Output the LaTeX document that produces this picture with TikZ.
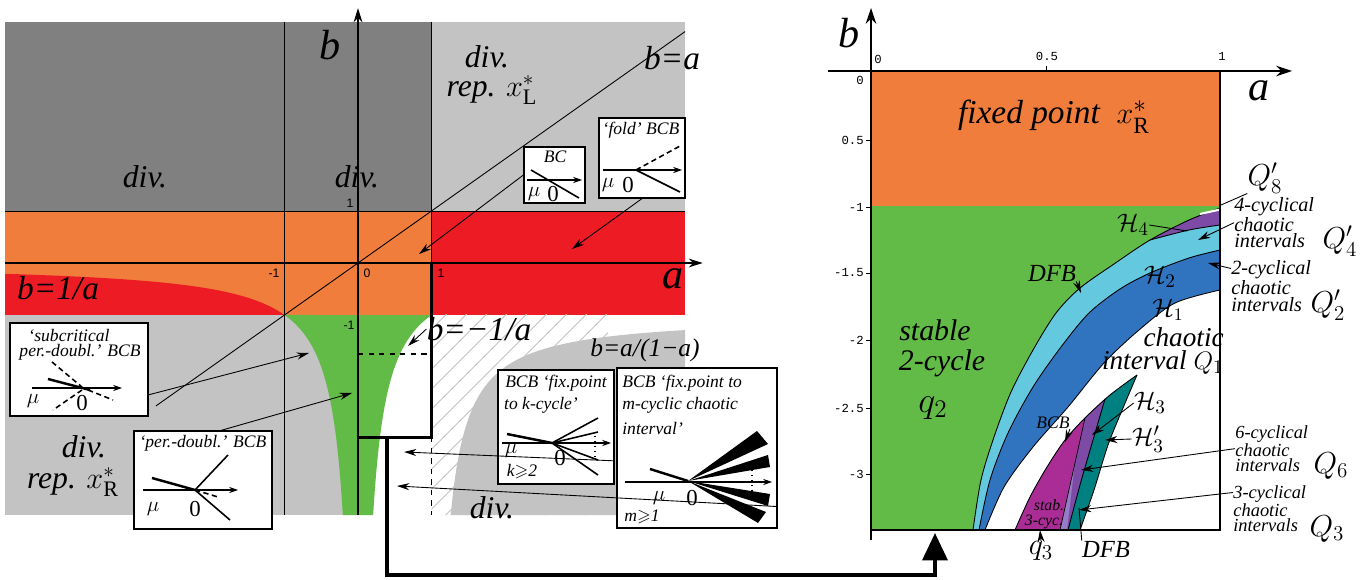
\documentclass[tikz,border=0pt]{standalone}
\usepackage{amssymb}
\usepackage{fontspec}
\setmainfont{Liberation Serif}
\setsansfont{Liberation Sans}
\setmonofont{Liberation Mono}
\usetikzlibrary{arrows.meta}

\definecolor{divdark}{RGB}{128,128,128}
\definecolor{divlight}{RGB}{195,195,195}
\definecolor{fixorange}{RGB}{240,125,60}
\definecolor{fixred}{RGB}{237,28,36}
\definecolor{cycgreen}{RGB}{98,187,70}
\definecolor{chaolight}{RGB}{100,200,222}
\definecolor{chaodark}{RGB}{48,115,190}
\definecolor{chaopurple}{RGB}{125,75,165}
\definecolor{stabmagenta}{RGB}{170,45,150}
\definecolor{stablav}{RGB}{150,125,200}
\definecolor{chaoteal}{RGB}{0,128,128}

\newcommand{\fsz}[1]{\fontsize{#1}{#1}\selectfont}
\newcommand{\fszb}[2]{\fontsize{#1}{#2}\selectfont}

\tikzset{
  region/.style={font=\itshape\fsz{18}, inner sep=0pt},
  eqlbl/.style={font=\itshape\fsz{19}, inner sep=0pt},
  axlbl/.style={font=\itshape\fsz{24}, inner sep=0pt},
  ticklbl/.style={font=\sffamily\fsz{7}, inner sep=0pt},
  rticklbl/.style={font=\ttfamily\fsz{7}, inner sep=0pt},
  inset/.style={draw, fill=white, line width=0.7pt, inner sep=0pt},
  insettxt/.style={font=\itshape\fsz{10}, inner sep=0pt},
  insetsym/.style={font=\fsz{13}, inner sep=0pt},
  note/.style={inner sep=0pt, align=left, anchor=north west},
  bignote/.style={font=\itshape\fsz{17}, inner sep=0pt},
  qlbl/.style={font=\fsz{18}, inner sep=0pt},
  hlbl/.style={font=\fsz{15}, inner sep=0pt},
  inaxis/.style={-{Stealth[length=5pt,width=3.5pt]}, line width=0.6pt},
  stablebr/.style={line width=1.4pt},
  unstbr/.style={dashed, line width=0.9pt, dash pattern=on 3pt off 2pt},
  pointer/.style={-{Stealth[length=7pt,width=4pt]}, line width=0.5pt},
}

\begin{document}
\begin{tikzpicture}[x=0.02cm,y=-0.02cm]
\useasboundingbox (0,0) rectangle (1370,580);

% left panel, drawn in (a,b)
\begin{scope}[shift={(358,263)},xscale=73.5,yscale=-52]
  \fill[divdark] (-4.8,1) rectangle (1,4.63);
  \fill[divlight] (1,1) rectangle (4.45,4.63);
  \fill[fixorange] (-4.8,-1) rectangle (1,1);
  \fill[fixred] (1,-1) rectangle (4.45,1);
  \fill[fixred] (-4.8,-1) -- plot[domain=-4.8:-1,samples=40] (\x,{1/\x}) -- cycle;
  \fill[divlight] (-4.8,-4.85) rectangle (0,-1);
  \fill[white] (0,-4.85) rectangle (4.45,-1);
  \fill[cycgreen] plot[domain=1:4.85,samples=60] ({-1/\x},{-\x})
    -- plot[domain=-4.85:-1,samples=60] ({-1/\x},\x) -- cycle;
  % hatching
  \begin{scope}
    \clip (1,-4.85) rectangle (3.4,-1);
    \foreach \k in {0,...,24}
      \draw[divlight,line width=0.5pt] (1+0.272*\k-2.8,-4.85) -- ++(2.8,3.96);
  \end{scope}
  \fill[divlight] plot[domain=1.26:4.45,samples=80] (\x,{\x/(1-\x)})
    -- (4.45,-4.85) -- (1.26,-4.85) -- cycle;
  % lines
  \draw[line width=0.5pt] (-1,-4.85) -- (-1,4.63);
  \draw[line width=0.5pt] (1,4.63) -- (1,-3.35);
  \draw[line width=0.5pt,dashed] (1,-3.35) -- (1,-4.85);
  \draw[line width=0.5pt] (-4.8,1) -- (4.45,1);
  \draw[line width=0.5pt] (-2.75,-2.75) -- (4.45,4.45);
  \draw[line width=0.6pt,dashed] (0,-1.75) -- (1,-1.75);
  \draw[line width=0.6pt,-{Stealth[length=8pt,width=5pt]}] (-4.8,0) -- (4.69,0);
  \draw[line width=0.6pt,-{Stealth[length=8pt,width=5pt]}] (0,-4.85) -- (0,4.9);
  \draw[line width=1.6pt] (0,0) rectangle (1,-3.35);
\end{scope}

% left panel labels
\node[axlbl] (bL) at (330,45) {b};
\node[axlbl] (aL) at (673,279) {a};
\node[region] (divA) at (145,177) {div.};
\node[region] (divB) at (357,177) {div.};
\node[region] (divC) at (487,57) {div.};
\node[region] (repL) at (492,90) {rep. $x^*_{\mathrm{L}}$};
\node[region] (divD) at (84,447) {div.};
\node[region] (repR) at (73,482) {rep. $x^*_{\mathrm{R}}$};
\node[region] (divE) at (492,508) {div.};
\node[eqlbl] (eqA) at (672,58) {b=a};
\node[eqlbl] (eqB) at (58,288) {b=1/a};
\node[eqlbl] (eqC) at (479,329) {b=−1/a};
\node[font=\itshape\fsz{14.5}, inner sep=0pt] (eqD) at (645,350) {b=a/(1−a)};
\node[ticklbl] (tb1) at (350,203) {1};
\node[ticklbl] (tam1) at (274,273) {-1};
\node[ticklbl] (ta0) at (367,273) {0};
\node[ticklbl] (ta1) at (441,273) {1};
\node[ticklbl] (tbm1) at (349,325) {-1};

% inset: subcritical period doubling
\node[inset, minimum width=2.76cm, minimum height=1.86cm] (subbox) at (79,369.5) {};
\node[insettxt] (subtxtA) at (69,336) {`subcritical};
\node[insettxt] (subtxtB) at (80,352) {per.-doubl.' BCB};
\draw[inaxis] (32,388) -- (122,388);
\draw[stablebr] (48,379) -- (90,390);
\draw[unstbr] (52,362) -- (82,387);
\draw[unstbr] (88,390) -- (113,400);
\draw[unstbr] (82,390) -- (53,410);
\node[insetsym] (submu) at (33,401) {$\mu$};
\node[insetsym] (subzero) at (82,403) {0};

% inset: period doubling
\node[inset, minimum width=2.76cm, minimum height=1.96cm] (pdbox) at (203,480) {};
\node[insettxt] (pdtxt) at (203,443) {`per.-doubl.' BCB};
\draw[inaxis] (143,490) -- (238,490);
\draw[stablebr] (152,478) -- (195,490);
\draw[line width=0.9pt] (195,490) -- (228,455);
\draw[line width=0.9pt] (195,490) -- (230,520);
\draw[unstbr] (195,490) -- (218,497);
\node[insetsym] (pdmu) at (153,509) {$\mu$};
\node[insetsym] (pdzero) at (195,509) {0};

% inset: border collision
\node[inset, minimum width=1.22cm, minimum height=1.12cm] (bcbox) at (554.5,175) {};
\node[insettxt] (bctxt) at (555,157) {BC};
\draw[inaxis] (527,180) -- (582,180);
\draw[line width=0.9pt] (531,170) -- (579,198);
\node[insetsym] (bcmu) at (534,194) {$\mu$};
\node[insetsym] (bczero) at (553,194) {0};

% inset: fold
\node[inset, minimum width=1.72cm, minimum height=1.6cm] (foldbox) at (642,158) {};
\node[insettxt] (foldtxt) at (641,130) {`fold' BCB};
\draw[inaxis] (603,170) -- (682,170);
\draw[unstbr] (636,170) -- (680,146);
\draw[line width=0.9pt] (636,170) -- (680,192);
\node[insetsym] (foldmu) at (608,185) {$\mu$};
\node[insetsym] (foldzero) at (628,185) {0};

% inset: fixed point to k-cycle
\node[inset, minimum width=2.32cm, minimum height=2.28cm] (kbox) at (556,427) {};
\node[insettxt] (ktxtA) at (556,383) {BCB `fix.point};
\node[insettxt] (ktxtB) at (541,405) {to k-cycle'};
\draw[inaxis] (502,443) -- (611,443);
\draw[stablebr] (507,434) -- (552,443);
\foreach \ey in {418,432,460,475}
  \draw[line width=0.9pt] (552,443) -- (598,\ey);
\draw[dotted, line width=0.8pt] (595,436) -- (595,457);
\node[insetsym] (kmu) at (511,451) {$\mu$};
\node[insetsym] (kzero) at (560,458) {0};
\node[insettxt] (kcond) at (522,472) {k$\geqslant$2};

% inset: fixed point to m-cyclic chaotic interval
\node[inset, minimum width=3.2cm, minimum height=3.2cm] (mbox) at (697,448) {};
\node[insettxt, anchor=west] (mtxtA) at (622,383) {BCB `fix.point to};
\node[insettxt, anchor=west] (mtxtB) at (622,405) {m-cyclic chaotic};
\node[insettxt, anchor=west] (mtxtC) at (622,428) {interval'};
\draw[inaxis] (625,482) -- (772,482);
\draw[stablebr] (650,469) -- (688,481);
\fill (688,481) -- (757,431) -- (768,444) -- cycle;
\fill (688,481) -- (768,455) -- (770,467) -- cycle;
\fill (688,481) -- (770,494) -- (768,506) -- cycle;
\fill (688,481) -- (766,512) -- (758,523) -- cycle;
\draw[dotted, line width=0.8pt] (752,470) -- (752,492);
\node[insetsym] (mmu) at (659,498) {$\mu$};
\node[insetsym] (mzero) at (692,498) {0};
\node[insettxt] (mcond) at (642,517) {m$\geqslant$1};

% pointers in the left panel
\coordinate (tBC) at (419,254);
\coordinate (tFold) at (572,249);
\coordinate (tSub) at (309,353);
\coordinate (tPd) at (352,393);
\coordinate (tNeg) at (408,346);
\coordinate (tK) at (404,452);
\coordinate (tM) at (397,486);
\draw[pointer] (bcbox.west) -- (tBC);
\draw[pointer] (foldbox.south) -- (tFold);
\draw[pointer] (subbox.-20) -- (tSub);
\draw[pointer] (pdbox.70) -- (tPd);
\draw[pointer] (eqC.west) -- (tNeg);
\draw[pointer] (kbox.-30) -- (tK);
\draw[pointer] (mbox.-36) -- (tM);

% right panel
\fill[fixorange] (871,71) rectangle (1220,206);
\fill[cycgreen] (871,206) rectangle (1220,530);
\fill[chaolight] plot[smooth] coordinates {(973,530) (981,480) (994,437) (1011,392) (1033,350) (1056,313) (1080,288) (1114,264) (1150,240) (1189,220) (1220,208)} -- (1220,530) -- cycle;
\begin{scope}
  \clip plot[smooth] coordinates {(1120,245) (1150,240) (1189,230) (1220,225)} -- (1220,150) -- (1120,150) -- cycle;
  \fill[chaopurple] plot[smooth] coordinates {(973,530) (981,480) (994,437) (1011,392) (1033,350) (1056,313) (1080,288) (1114,264) (1150,240) (1189,220) (1220,208)} -- (1220,530) -- cycle;
\end{scope}
\fill[chaodark] plot[smooth] coordinates {(979,530) (990,480) (1008,433) (1033,387) (1061,347) (1089,313) (1120,289) (1150,273) (1189,258) (1220,250)} -- (1220,530) -- cycle;
\fill[white] plot[smooth] coordinates {(985,530) (1004,487) (1033,447) (1068,407) (1104,363) (1139,330) (1175,303) (1220,290)} -- (1220,530) -- cycle;
\draw[line width=0.5pt] plot[smooth] coordinates {(973,530) (981,480) (994,437) (1011,392) (1033,350) (1056,313) (1080,288) (1114,264) (1150,240) (1189,220) (1220,208)};
\draw[line width=0.5pt] plot[smooth] coordinates {(979,530) (990,480) (1008,433) (1033,387) (1061,347) (1089,313) (1120,289) (1150,273) (1189,258) (1220,250)};
\draw[line width=0.5pt] plot[smooth] coordinates {(985,530) (1004,487) (1033,447) (1068,407) (1104,363) (1139,330) (1175,303) (1220,290)};
\draw[line width=0.5pt] plot[smooth] coordinates {(1150,240) (1189,230) (1220,225)};
\draw[white, line width=1.2pt] (1200,214) -- (1220,209.5);

% tongue of the 3-cycle
\fill[chaoteal] plot[smooth] coordinates {(1015,530) (1030,497) (1047,467) (1065,440) (1085,418) (1110,395) (1137,375)}
  -- plot[smooth] coordinates {(1137,375) (1123,408) (1108,445) (1094,490) (1080,530)} -- cycle;
\fill[chaopurple] plot[smooth] coordinates {(1015,530) (1030,497) (1047,467) (1065,440) (1085,418) (1105,399)}
  -- plot[smooth] coordinates {(1105,399) (1093,440) (1080,485) (1068,530)} -- cycle;
\fill[stabmagenta] plot[smooth] coordinates {(1015,530) (1030,497) (1047,467) (1065,440) (1085,418)} -- (1060,530) -- cycle;
\fill[stablav] (1060,530) -- (1075,462) -- (1067,530) -- cycle;
\draw[line width=0.5pt] plot[smooth] coordinates {(1015,530) (1030,497) (1047,467) (1065,440) (1085,418) (1110,395) (1137,375)};
\draw[line width=0.5pt] plot[smooth] coordinates {(1137,375) (1123,408) (1108,445) (1094,490) (1080,530)};
\draw[line width=0.5pt] plot[smooth] coordinates {(1105,399) (1093,440) (1080,485) (1068,530)};
\draw[line width=0.4pt] (1085,418) -- (1060,530);

% axes and frame
\draw[line width=0.6pt] (871,530) -- (1220,530) -- (1220,71);
\draw[line width=0.6pt,-{Stealth[length=9pt,width=6pt]}] (828,71) -- (1292,71);
\draw[line width=0.6pt,-{Stealth[length=9pt,width=6pt]}] (871,540) -- (871,8);
\foreach \ty in {140,207,273,340,408,474}
  \draw[line width=0.5pt] (866,\ty) -- (871,\ty);
\draw[line width=0.5pt] (1046,66) -- (1046,71);
\node[axlbl] (bR) at (849,33) {b};
\node[axlbl] (aR) at (1259,91) {a};
\node[rticklbl] (rt0) at (878,59) {0};
\node[rticklbl] (rt05) at (1047,56) {0.5};
\node[rticklbl] (rt1) at (1222,56) {1};
\node[rticklbl, anchor=east] (rb0) at (864,80) {0};
\node[rticklbl, anchor=east] (rb05) at (864,140) {0.5};
\node[rticklbl, anchor=east] (rb1) at (864,207) {-1};
\node[rticklbl, anchor=east] (rb15) at (864,273) {-1.5};
\node[rticklbl, anchor=east] (rb2) at (864,340) {-2};
\node[rticklbl, anchor=east] (rb25) at (864,408) {-2.5};
\node[rticklbl, anchor=east] (rb3) at (864,474) {-3};

% right panel labels
\node[font=\itshape\fsz{19}, inner sep=0pt] (fixpt) at (1054,117) {fixed point\ \ $x^*_{\mathrm{R}}$};
\node[qlbl] (q8lbl) at (1265,178) {$Q'_8$};
\node[hlbl] (h4lbl) at (1133,225) {$\mathcal{H}_4$};
\node[note, font=\itshape\fszb{11.5}{9.3}] (c4) at (1234,197) {4-cyclical\\chaotic\\intervals};
\node[qlbl] (q4lbl) at (1340,241) {$Q'_4$};
\node[font=\itshape\fsz{14}, inner sep=0pt] (dfbU) at (1052,273) {DFB};
\node[hlbl] (h2lbl) at (1160,277) {$\mathcal{H}_2$};
\node[note, font=\itshape\fszb{11.5}{9.6}] (c2) at (1231,260) {2-cyclical\\chaotic\\intervals};
\node[qlbl] (q2lbl) at (1328,305) {$Q'_2$};
\node[font=\fsz{14}, inner sep=0pt] (h1lbl) at (1168,310) {$\mathcal{H}_1$};
\node[bignote, align=right, anchor=north east, font=\itshape\fszb{15.5}{13.5}] (chao) at (1224,327) {chaotic\\interval $Q_1$};
\node[bignote] (stabA) at (935,330) {stable};
\node[bignote] (stabB) at (942,363) {2-cycle};
\node[font=\fsz{22}, inner sep=0pt] (q2cyc) at (933,408) {$q_2$};
\node[hlbl] (h3lbl) at (1150,403) {$\mathcal{H}_3$};
\node[hlbl] (h3plbl) at (1148,439) {$\mathcal{H}'_3$};
\node[font=\itshape\fsz{10}, inner sep=0pt] (bcblbl) at (1053,423) {BCB};
\node[note, font=\itshape\fszb{10.5}{8.6}] (c6) at (1235,425) {6-cyclical\\chaotic\\intervals};
\node[qlbl] (q6lbl) at (1331,466) {$Q_6$};
\node[note, font=\itshape\fszb{10.5}{8.2}] (c3) at (1233,485) {3-cyclical\\chaotic\\intervals};
\node[qlbl] (q3Q) at (1327,529) {$Q_3$};
\node[font=\itshape\fsz{9}, inner sep=0pt] (stabC) at (1049,505) {stab.};
\node[font=\itshape\fsz{9}, inner sep=0pt] (stabD) at (1044,522) {3-cyc.};
\node[qlbl] (q3lbl) at (1041,551) {$q_3$};
\node[font=\itshape\fsz{14}, inner sep=0pt] (dfbL) at (1106,549) {DFB};

% pointers in the right panel
\coordinate (tQ8) at (1221,205);
\coordinate (tH4) at (1187,231);
\coordinate (tC4) at (1198,240);
\coordinate (tDfbU) at (1081,293);
\coordinate (tC2) at (1208,263);
\coordinate (tH3) at (1092,435);
\coordinate (tH3p) at (1105,440);
\coordinate (tBCB) at (1065,442);
\coordinate (tC6) at (1081,470);
\coordinate (tC3) at (1079,510);
\coordinate (tq3) at (1040,530);
\coordinate (tDfbL) at (1079,508);
\draw[line width=0.5pt] (q8lbl.south west) -- (tQ8);
\draw[line width=0.5pt] (h4lbl.east) -- (tH4);
\draw[pointer] (c4.west) -- (tC4);
\draw[pointer] (dfbU.south east) -- (tDfbU);
\draw[pointer] ([yshift=-0.17cm]c2.north west) -- (tC2);
\draw[pointer] (h3lbl.west) -- (tH3);
\draw[pointer] (h3plbl.west) -- (tH3p);
\draw[pointer] (bcblbl.south east) -- (tBCB);
\draw[pointer] (c6.west) -- (tC6);
\draw[pointer] ([yshift=-0.15cm]c3.north west) -- (tC3);
\draw[pointer] (q3lbl.north) -- (tq3);
\draw[line width=0.5pt] (dfbL.north west) -- (tDfbL);

% zoom connector
\coordinate (boxbot) at (387,437);
\coordinate (zoomtip) at (935,533);
\draw[line width=2.2pt, -{Triangle[length=0.55cm,width=0.5cm]}] (boxbot) -- ++(0,138) -| (zoomtip);
\end{tikzpicture}
\end{document}
